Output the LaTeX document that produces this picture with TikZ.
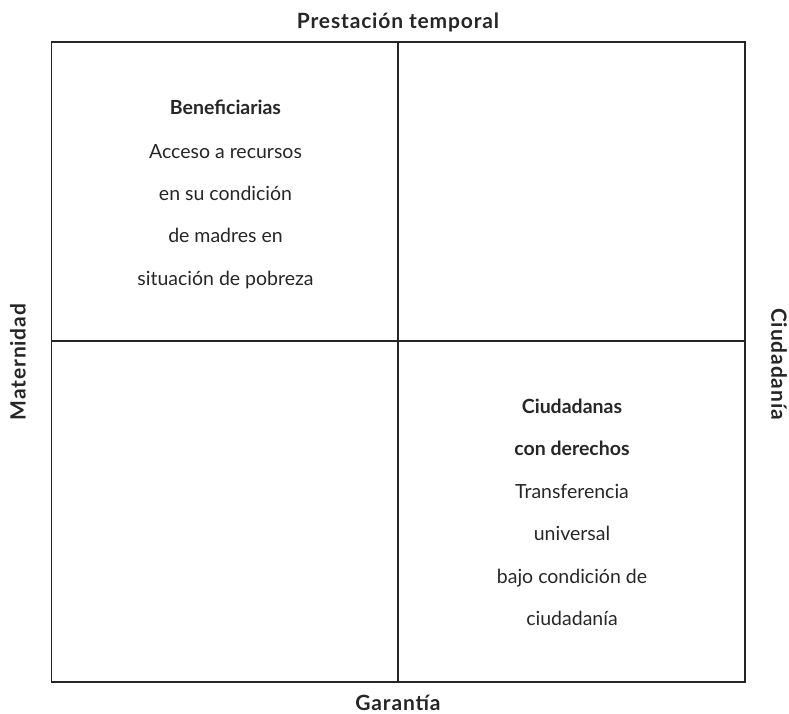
\documentclass[tikz,border=0pt]{standalone}
\usepackage{fontspec}
\setmainfont{Lato}
\begin{document}
\begin{tikzpicture}[x=1pt,y=-1pt,
  frame/.style={draw=black!85,line width=1.1pt},
  axislbl/.style={font=\fontsize{21}{24}\selectfont\bfseries\addfontfeatures{LetterSpace=4},inner sep=0pt,text=black!85},
  celltxt/.style={font=\fontsize{19.5}{22}\selectfont,inner sep=0pt,anchor=base,text=black!85},
  cellhead/.style={font=\fontsize{19.5}{22}\selectfont\bfseries,inner sep=0pt,anchor=base,text=black!85}]
\useasboundingbox (0,0) rectangle (789,713);
\draw[frame] (51.5,42) rectangle (745,682);
\coordinate (vt) at (398,42);
\coordinate (vb) at (398,682);
\coordinate (hl) at (51.5,341);
\coordinate (hr) at (745,341);
\draw[frame] (vt) -- (vb);
\draw[frame] (hl) -- (hr);
\node[axislbl,anchor=base] (top) at (398,28) {Prestación temporal};
\node[axislbl,anchor=base] (bot) at (398,710) {Garantía};
\node[axislbl,rotate=90] (left) at (18,362) {Maternidad};
\node[axislbl,rotate=-90] (right) at (779,364) {Ciudadanía};
\node[cellhead] (b1) at (225.5,114) {Beneficiarias};
\node[celltxt] (b2) at (225.5,158) {Acceso a recursos};
\node[celltxt] (b3) at (225.5,200) {en su condición};
\node[celltxt] (b4) at (225.5,242) {de madres en};
\node[celltxt] (b5) at (225.5,285) {situación de pobreza};
\node[cellhead] (c1) at (572,413) {Ciudadanas};
\node[cellhead] (c2) at (572,455) {con derechos};
\node[celltxt] (c3) at (572,498) {Transferencia};
\node[celltxt] (c4) at (572,540) {universal};
\node[celltxt] (c5) at (572,583) {bajo condición de};
\node[celltxt] (c6) at (572,625) {ciudadanía};
\end{tikzpicture}
\end{document}
